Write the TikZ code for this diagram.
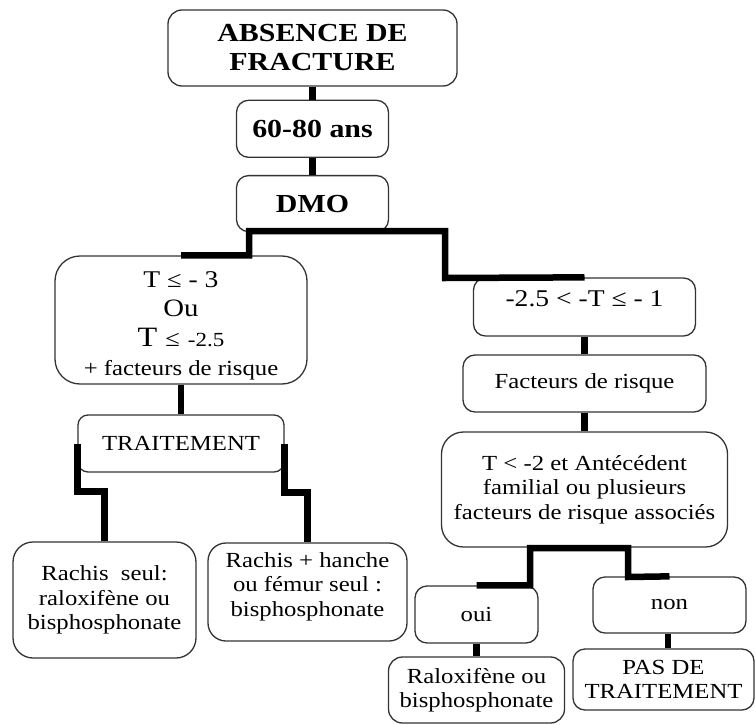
\documentclass[tikz,border=0pt]{standalone}
\usepackage{fontspec}
\setmainfont[FakeStretch=1.15]{Liberation Serif}
\usetikzlibrary{positioning}
\tikzset{
  box/.style  ={rectangle, rounded corners=12pt, draw=black!80, line width=1.3pt, fill=white,
                align=center, inner sep=0pt, font=\fontsize{21.5}{24.5}\selectfont},
  boxb/.style ={box, font=\fontsize{26}{29}\selectfont\bfseries},
  conn/.style ={draw=black, line width=6.5pt},
}

\begin{document}
\begin{tikzpicture}[x=1pt, y=-1pt]
\fill[white] (0,0) rectangle (755,725);
\useasboundingbox (0,0) rectangle (755,725);
% top chain
\node[boxb, minimum width=289pt, minimum height=76pt, rounded corners=14pt] (abs) at (312.5,48) {ABSENCE DE\\FRACTURE};
\node[boxb, minimum width=152pt, minimum height=57pt, below=13pt of abs] (age) {60-80 ans};
\node[boxb, minimum width=152pt, minimum height=56pt, below=17pt of age] (dmo) {DMO};
% left branch
\node[box, minimum width=252pt, minimum height=128pt, rounded corners=25pt, font=\fontsize{25}{29.5}\selectfont] (tlow) at (181,320)
  {\rule{0pt}{28pt}{\fontsize{24}{29.5}\selectfont T {\fontsize{23}{29.5}\selectfont ≤} - 3}\\Ou\\{\fontsize{28}{29.5}\selectfont T {\fontsize{23}{29.5}\selectfont ≤} {\fontsize{20}{29.5}\selectfont -2.5}}\\{\fontsize{21.5}{29.5}\selectfont + facteurs de risque}};
\node[box, minimum width=206pt, minimum height=57pt, rounded corners=10pt] (trt) at (181,443.5) {TRAITEMENT};
\node[box, minimum width=183pt, minimum height=116pt, rounded corners=20pt] (rs1) at (104.5,600) {Rachis\ \ seul:\\raloxifène ou\\bisphosphonate};
\node[box, minimum width=199pt, minimum height=98pt, rounded corners=18pt] (rs2) at (307.5,592) {Rachis + hanche\\ou fémur seul :\\bisphosphonate\rule[-15pt]{0pt}{1pt}};
% right branch
\node[box, minimum width=222pt, minimum height=58pt, text height=16pt, text depth=18pt, font=\fontsize{24}{28}\selectfont] (rng) at (584.5,307) {-2.5 < -T ≤ - 1};
\node[box, minimum width=243pt, minimum height=57pt] (fdr) at (584.5,383.5) {Facteurs de risque};
\node[box, minimum width=286pt, minimum height=115pt, rounded corners=22pt] (ant) at (584.5,489.5) {T < -2 et Antécédent\\familial ou plusieurs\\facteurs de risque associés};
\node[box, minimum width=123pt, minimum height=57pt] (oui) at (476.5,614.5) {oui};
\node[box, minimum width=153pt, minimum height=56pt] (non) at (669.5,605) {non};
\node[box, minimum width=176pt, minimum height=66pt, rounded corners=14pt] (ral) at (476.5,690) {Raloxifène ou\\bisphosphonate};
\node[box, minimum width=181pt, minimum height=61pt] (pas) at (663.5,679.5) {PAS DE\\TRAITEMENT};
% connectors
\draw[conn] (abs) -- (age);
\draw[conn] (age) -- (dmo);
\draw[conn] (tlow.north) -| (249,231) -| (445,278) -- (rng.north);
\draw[conn] (tlow) -- (trt);
\draw[conn] (trt.west) |- ([yshift=50pt]rs1.north) -- (rs1.north);
\draw[conn] (trt.east) |- ([yshift=50pt]rs2.north) -- (rs2.north);
\draw[conn] (rng) -- (fdr);
\draw[conn] (fdr) -- (ant);
\draw[conn] (oui.north) -| (530,548) -| (628,577) -- (non.north);
\draw[conn] (oui) -- (ral);
\draw[conn] (non.south -| 668,0) -- (pas.north -| 668,0);
\end{tikzpicture}
\end{document}
